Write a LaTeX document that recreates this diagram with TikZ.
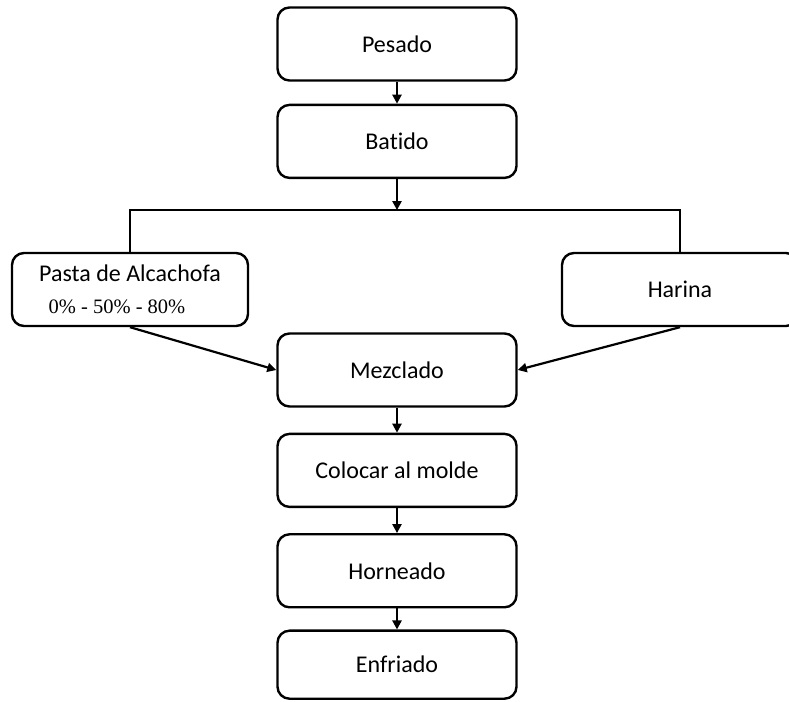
\documentclass[tikz,border=0pt]{standalone}
\usepackage{fontspec}
\setmainfont{Carlito}[Ligatures=NoCommon]
\newfontfamily\pctfont{Liberation Serif}
\usetikzlibrary{shapes,arrows.meta,positioning,fit}

\begin{document}
\begin{tikzpicture}[
    x=1pt,y=1pt,
    node distance=25pt,
    box/.style={rectangle,draw,rounded corners=12pt,line width=2.4pt,minimum width=239pt,minimum height=73pt,align=center,font=\fontsize{24}{28}\selectfont},
    arrow/.style={-{Triangle[length=9pt,width=9pt]},line width=2.2pt},
    link/.style={line width=2.2pt}
]
    \useasboundingbox (0,0) rectangle (789,701);
    \node[box] (pesado) at (397,657) {Pesado};
    \node[box,below=22pt of pesado] (batido) {Batido};
    \node[box,minimum width=236pt] (pasta) at (130,411.5) {Pasta de Alcachofa\\[4pt]{\pctfont\fontsize{20.5}{24}\selectfont 0\% - 50\% - 80\%}\hspace*{26pt}};
    \node[box,minimum width=236pt] (harina) at (680,411.5) {Harina};
    \node[box] (mezclado) at (397,331) {Mezclado};
    \node[box,below=of mezclado] (colocar) {Colocar al molde};
    \node[box,below=of colocar] (horneado) {Horneado};
    \node[box,below=21pt of horneado,minimum height=68pt] (enfriado) {Enfriado};
    \coordinate (bar) at ([yshift=-31pt]batido.south);

    \draw[arrow] (pesado) -- (batido);
    \draw[arrow] (batido) -- (bar);
    \draw[link] (pasta.north) |- (bar) -| (harina.north);
    \draw[arrow] (pasta.south) -- (mezclado.west);
    \draw[arrow] (harina.south) -- (mezclado.east);
    \draw[arrow] (mezclado) -- (colocar);
    \draw[arrow] (colocar) -- (horneado);
    \draw[arrow] (horneado) -- (enfriado);
\end{tikzpicture}
\end{document}
